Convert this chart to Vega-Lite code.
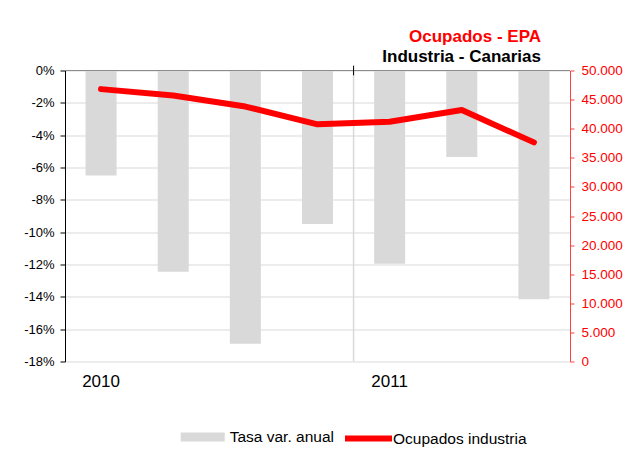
{
  "$schema": "https://vega.github.io/schema/vega-lite/v6.json",
  "width": 505,
  "height": 291,
  "autosize": {"type": "none"},
  "padding": {"left": 65, "top": 70.5, "right": 58.5, "bottom": 89.5},
  "background": "white",
  "config": {"view": {"stroke": null}, "font": "Liberation Sans", "axis": {"labelFont": "Liberation Sans"}, "legend": {"labelFont": "Liberation Sans"}},
  "title": {
    "text": "Ocupados - EPA",
    "subtitle": "Industria - Canarias",
    "anchor": "end",
    "frame": "group",
    "dx": -29,
    "offset": -2,
    "font": "Liberation Sans",
    "fontSize": 17,
    "fontWeight": "bold",
    "color": "#ff0000",
    "subtitleFont": "Liberation Sans",
    "subtitleFontSize": 17,
    "subtitleFontWeight": "bold",
    "subtitleColor": "#000000",
    "subtitlePadding": 3
  },
  "data": {
    "values": [
      {"q": "2010-I", "tasa": -6.5, "ocupados": 46800},
      {"q": "2010-II", "tasa": -12.45, "ocupados": 45700},
      {"q": "2010-III", "tasa": -16.9, "ocupados": 43800},
      {"q": "2010-IV", "tasa": -9.5, "ocupados": 40750},
      {"q": "2011-I", "tasa": -11.95, "ocupados": 41200},
      {"q": "2011-II", "tasa": -5.35, "ocupados": 43200},
      {"q": "2011-III", "tasa": -14.15, "ocupados": 37650}
    ]
  },
  "encoding": {
    "x": {
      "field": "q",
      "type": "ordinal",
      "sort": null,
      "scale": {"paddingInner": 0.57, "paddingOuter": 0.285},
      "axis": {
        "orient": "bottom",
        "title": null,
        "domain": false,
        "ticks": false,
        "grid": false,
        "labelAngle": 0,
        "labelOverlap": false,
        "labelExpr": "datum.value == '2010-I' ? '2010' : datum.value == '2011-I' ? '2011' : ''",
        "labelFontSize": 17,
        "labelPadding": 12,
        "labelColor": "#000000"
      }
    }
  },
  "layer": [
    {
      "layer": [
        {
          "mark": {"type": "bar"},
          "encoding": {
            "y": {
              "field": "tasa",
              "type": "quantitative",
              "scale": {"domain": [-18, 0], "nice": false},
              "axis": {
                "orient": "left",
                "title": null,
                "values": [-18, -16, -14, -12, -10, -8, -6, -4, -2, 0],
                "labelExpr": "datum.value + '%'",
                "labelOverlap": false,
                "domainColor": "#000000",
                "tickColor": "#000000",
                "tickSize": 5,
                "labelPadding": 6,
                "labelFontSize": 13,
                "labelColor": "#000000",
                "grid": true,
                "gridColor": "#d9d9d9"
              }
            },
            "fill": {
              "datum": "Tasa var. anual",
              "type": "nominal",
              "scale": {"range": ["#d9d9d9"]},
              "legend": {
                "orient": "none",
                "legendX": 115.7,
                "legendY": 344.5,
                "title": null,
                "symbolType": "M-1,-0.205H1V0.205H-1Z",
                "symbolSize": 1936,
                "symbolStrokeWidth": 0,
                "labelFontSize": 15.5,
                "labelOffset": 5,
                "labelColor": "#000000",
                "padding": 0
              }
            }
          }
        },
        {
          "transform": [{"filter": "datum.q == '2011-I'"}],
          "mark": {"type": "rule", "color": "#d9d9d9", "strokeWidth": 1.5},
          "encoding": {"x": {"field": "q", "type": "ordinal", "sort": null, "bandPosition": -0.6628}}
        },
        {
          "transform": [{"filter": "datum.q == '2010-I'"}],
          "mark": {"type": "rule", "color": "#8c8c8c", "strokeWidth": 1.2},
          "encoding": {
            "x": null,
            "y": {
              "datum": 0,
              "type": "quantitative",
              "axis": {
                "orient": "left",
                "title": null,
                "values": [-18, -16, -14, -12, -10, -8, -6, -4, -2, 0],
                "labelExpr": "datum.value + '%'",
                "labelOverlap": false,
                "domainColor": "#000000",
                "tickColor": "#000000",
                "tickSize": 5,
                "labelPadding": 6,
                "labelFontSize": 13,
                "labelColor": "#000000",
                "grid": true,
                "gridColor": "#d9d9d9"
              }
            }
          }
        },
        {
          "transform": [{"filter": "datum.q == '2011-I'"}],
          "mark": {"type": "rule", "color": "#000000", "strokeWidth": 1},
          "encoding": {
            "x": {"field": "q", "type": "ordinal", "sort": null, "bandPosition": -0.6628},
            "y": {
              "datum": 0.3,
              "type": "quantitative",
              "axis": {
                "orient": "left",
                "title": null,
                "values": [-18, -16, -14, -12, -10, -8, -6, -4, -2, 0],
                "labelExpr": "datum.value + '%'",
                "labelOverlap": false,
                "domainColor": "#000000",
                "tickColor": "#000000",
                "tickSize": 5,
                "labelPadding": 6,
                "labelFontSize": 13,
                "labelColor": "#000000",
                "grid": true,
                "gridColor": "#d9d9d9"
              }
            },
            "y2": {"datum": -0.3}
          }
        }
      ]
    },
    {
      "mark": {"type": "line", "strokeWidth": 6, "strokeCap": "round", "strokeJoin": "round"},
      "encoding": {
        "y": {
          "field": "ocupados",
          "type": "quantitative",
          "scale": {"domain": [0, 50000], "nice": false},
          "axis": {
            "orient": "right",
            "title": null,
            "values": [0, 5000, 10000, 15000, 20000, 25000, 30000, 35000, 40000, 45000, 50000],
            "labelExpr": "replace(format(datum.value, ','), ',', '.')",
            "labelOverlap": false,
            "domainColor": "#ff4040",
            "tickColor": "#ff4040",
            "tickSize": 4,
            "labelPadding": 7,
            "labelFontSize": 13.5,
            "labelColor": "#ff0000",
            "grid": false
          }
        },
        "stroke": {
          "datum": "Ocupados industria",
          "type": "nominal",
          "scale": {"range": ["#ff0000"]},
          "legend": {
            "orient": "none",
            "legendX": 277,
            "legendY": 341.5,
            "title": null,
            "symbolType": "stroke",
            "symbolSize": 2209,
            "symbolStrokeWidth": 6,
            "labelFontSize": 15.5,
            "labelOffset": -2,
            "labelColor": "#000000",
            "padding": 0
          }
        }
      }
    }
  ],
  "resolve": {"scale": {"y": "independent"}}
}
